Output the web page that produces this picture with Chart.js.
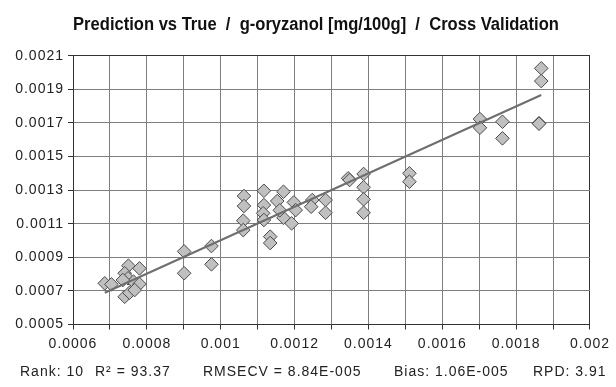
<!DOCTYPE html>
<html><head><meta charset="utf-8">
<script src="https://cdn.jsdelivr.net/npm/chart.js@4.4.1/dist/chart.umd.min.js"></script>
<style>
html,body{margin:0;padding:0;background:#fff;}
#wrap{position:relative;width:616px;height:387px;overflow:hidden;}
#c{position:absolute;left:0;top:0;}
#title{position:absolute;left:0;top:14px;width:632px;height:20px;line-height:18px;text-align:center;font:bold 18px "Liberation Sans",Arial,sans-serif;color:#111;white-space:pre;transform:scaleX(0.92);transform-origin:316px 0;}
#stats{position:absolute;left:0;top:363px;width:616px;height:20px;font:14px "Liberation Sans",Arial,sans-serif;letter-spacing:1px;color:#222;white-space:nowrap;}
#stats span{position:absolute;top:0;}
</style></head><body>
<div id="wrap"><canvas id="c" width="616" height="387"></canvas><div id="title"></div><div id="stats"></div></div>
<script>
// True (x) and predicted (y) values
const trueValues = [
  0.000686,0.000704,0.000750,0.000780,0.000740,0.000749,0.000764,0.000780,0.000740,0.000753,0.000767,0.000735,
  0.000901,0.000901,0.000975,0.000975,
  0.001063,0.001063,0.001061,0.001061,
  0.001117,0.001117,0.001115,0.001117,0.001134,0.001134,0.001153,0.001170,0.001170,0.001160,
  0.001192,0.001198,0.001203,0.001248,0.001245,0.001284,0.001284,
  0.001345,0.001349,0.001387,0.001387,0.001387,0.001387,
  0.001511,0.001511,
  0.001702,0.001702,0.001763,0.001763,0.001862,0.001862,0.001868,0.001868
];
const predictedValues = [
  0.000745,0.000739,0.000850,0.000834,0.000805,0.000775,0.000755,0.000741,0.000665,0.000689,0.000705,0.000765,
  0.000935,0.000805,0.000967,0.000858,
  0.001265,0.001205,0.001118,0.001062,
  0.001296,0.001211,0.001162,0.001122,0.001023,0.000985,0.001235,0.001290,0.001135,0.001180,
  0.001102,0.001227,0.001181,0.001241,0.001201,0.001241,0.001165,
  0.001370,0.001360,0.001396,0.001317,0.001245,0.001165,
  0.001400,0.001350,
  0.001723,0.001671,0.001707,0.001608,0.001698,0.001695,0.002025,0.001949
];
// Regression line end points
const fitLineX = [0.000686, 0.001868];
const fitLineY = [0.000689, 0.001866];
// Axis ranges / steps
const xMin = 0.0006, xMax = 0.002, xStep = 0.0001;
const yMin = 0.0005, yMax = 0.0021, yStep = 0.0002;
const titleText = 'Prediction vs True  /  g-oryzanol [mg/100g]  /  Cross Validation';
const statLabels = ['Rank: 10', 'R\u00B2 = 93.37', 'RMSECV = 8.84E-005', 'Bias: 1.06E-005', 'RPD: 3.91'];

document.getElementById('title').textContent = titleText;
const statLefts = [20, 95, 203, 394, 533];
const statsDiv = document.getElementById('stats');
statLabels.forEach((t, i) => { const s = document.createElement('span'); s.textContent = t; s.style.left = statLefts[i] + 'px'; statsDiv.appendChild(s); });

const pts = trueValues.map((x, i) => ({x: x, y: predictedValues[i]}));
const linePts = fitLineX.map((x, i) => ({x: x, y: fitLineY[i]}));

const GRID = '#7e7e7e', DARK = '#333333';
const tickFont = {family: '"Liberation Sans", Arial, sans-serif', size: 14};

const spacingPlugin = {
  id: 'letterSpacing',
  beforeLayout(chart) { chart.ctx.letterSpacing = '1px'; },
  beforeDraw(chart) { chart.ctx.letterSpacing = '1px'; }
};

new Chart(document.getElementById('c'), {
  type: 'scatter',
  plugins: [spacingPlugin],
  data: {
    datasets: [
      {data: linePts, showLine: true, borderColor: '#6e6e6e', borderWidth: 2, pointRadius: 0, fill: false},
      {data: pts, pointStyle: 'rectRot', pointRadius: 6.8, backgroundColor: '#c0c0c0', borderColor: '#4a4a4a', borderWidth: 1}
    ]
  },
  options: {
    responsive: false, animation: false, devicePixelRatio: 1,
    layout: {padding: {left: 0, right: 24, top: 55.7, bottom: 0}},
    plugins: {legend: {display: false}, tooltip: {enabled: false}, title: {display: false}},
    scales: {
      x: {
        type: 'linear', min: xMin, max: xMax,
        afterFit: s => { s.height = 62.5; },
        border: {display: true, color: DARK, width: 1},
        grid: {color: c => (c.index === 14 ? DARK : GRID), lineWidth: 1, tickColor: DARK, tickLength: 5},
        ticks: {stepSize: xStep, maxTicksLimit: 30, maxRotation: 0, autoSkip: false, padding: 6, color: '#222', font: tickFont,
          callback: v => { const k = Math.round((v - xMin) / xStep); return k % 2 ? '' : String(parseFloat(v.toFixed(4))); }}
      },
      y: {
        type: 'linear', min: yMin, max: yMax,
        afterFit: s => { s.width = 73; },
        border: {display: true, color: DARK, width: 1},
        grid: {color: c => (c.index === 8 ? DARK : GRID), lineWidth: 1, tickColor: DARK, tickLength: 5},
        ticks: {stepSize: yStep, maxTicksLimit: 30, autoSkip: false, padding: 4, color: '#222', font: tickFont,
          callback: v => v.toFixed(4)}
      }
    }
  }
});
</script>
</body></html>
